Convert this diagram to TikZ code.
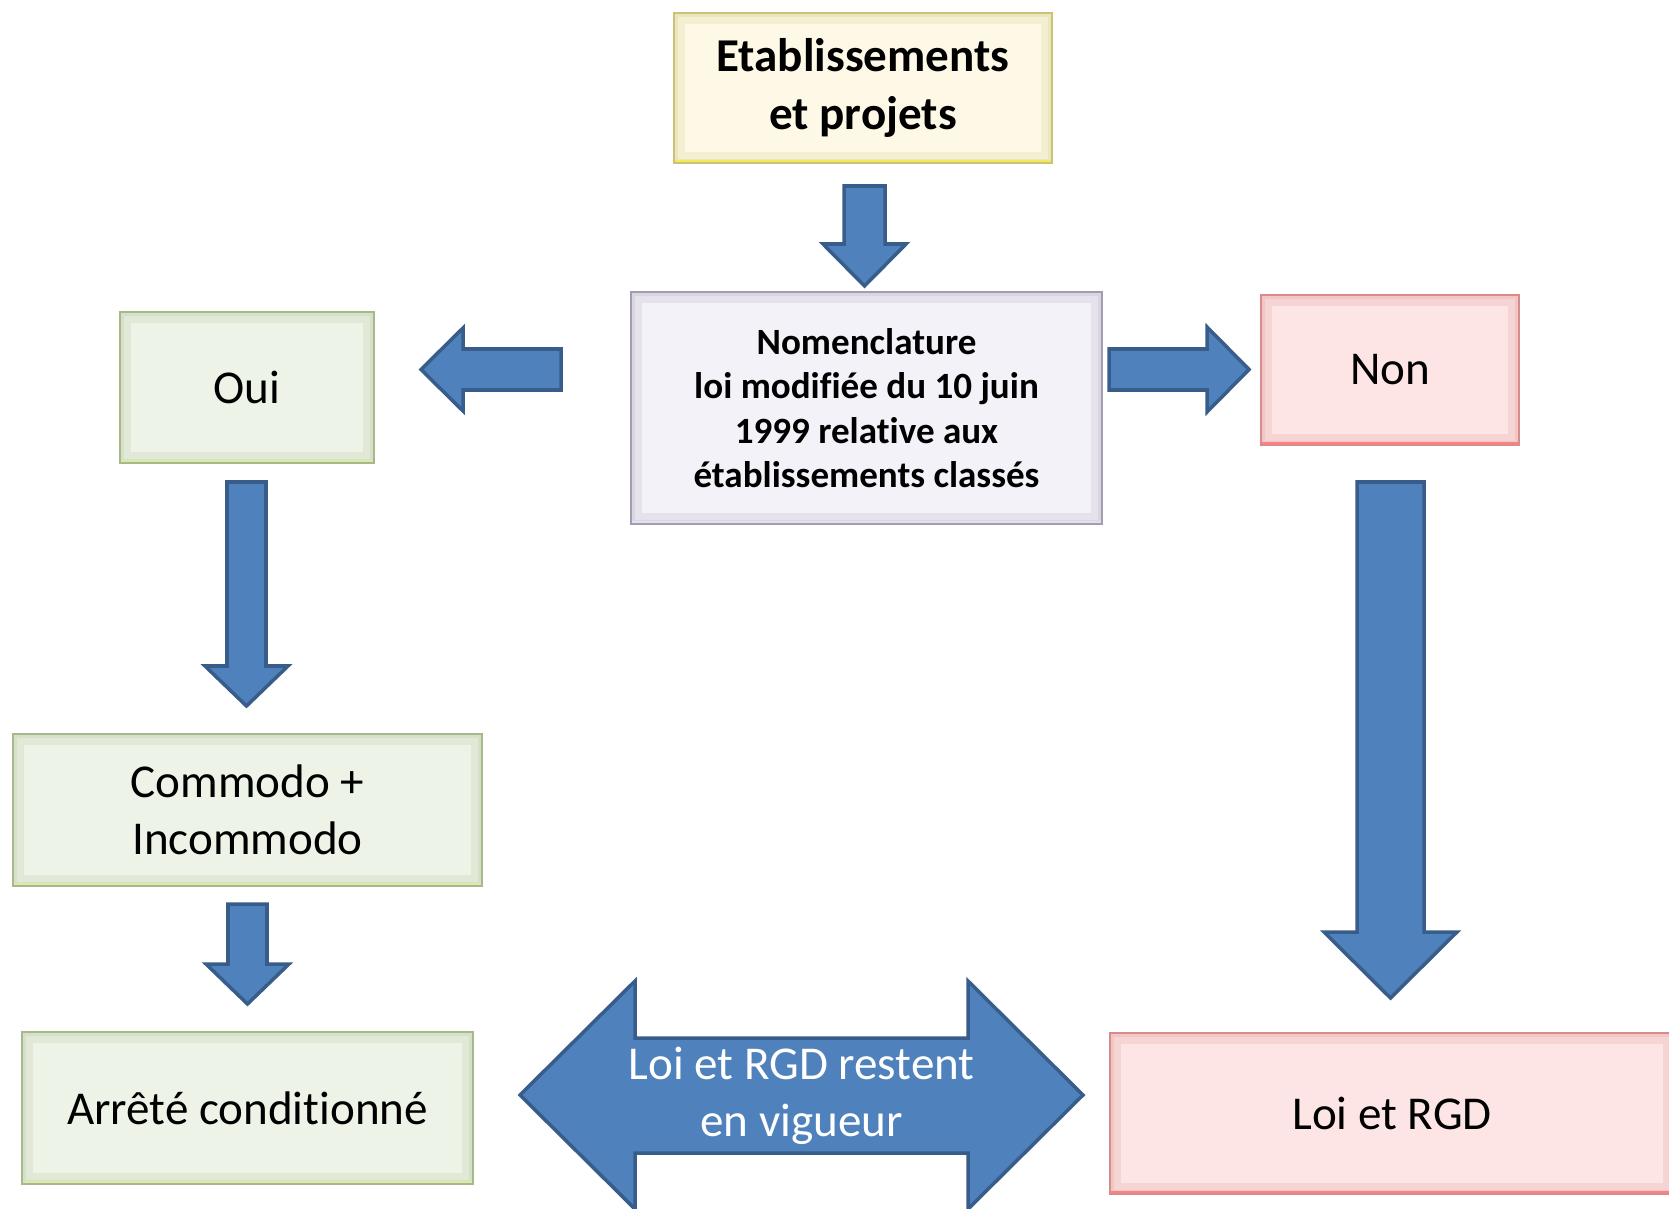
\documentclass[tikz,border=0pt]{standalone}
\usepackage{fontspec}
\setmainfont{Carlito}[Ligatures=NoCommon]
\definecolor{arrowblue}{HTML}{4F81BD}
\definecolor{arrowedge}{HTML}{385D8A}
\definecolor{etabfill}{HTML}{FEF9E6}
\definecolor{etabline}{HTML}{CBC276}
\definecolor{etabglow}{HTML}{F2EA5E}
\definecolor{nomenfill}{HTML}{F4F2F9}
\definecolor{nomenline}{HTML}{A39DB2}
\definecolor{nomenglow}{HTML}{E4E0F0}
\definecolor{ouifill}{HTML}{EEF3E7}
\definecolor{ouiline}{HTML}{A8B88D}
\definecolor{ouiglow}{HTML}{DCEAA8}
\definecolor{nonfill}{HTML}{FDE5E5}
\definecolor{nonline}{HTML}{D98A8A}
\definecolor{nonglow}{HTML}{FF8080}
\tikzset{
  box/.style={draw, line width=1.5pt, align=center, inner sep=0pt,
    font=\fontsize{26.8}{32.6}\selectfont},
  bevel/.style 2 args={path picture={
    \draw[#1, opacity=.18, line width=12pt]
      (path picture bounding box.south west) rectangle (path picture bounding box.north east);
    \draw[#1, opacity=.18, line width=5pt]
      (path picture bounding box.south west) rectangle (path picture bounding box.north east);
    \draw[#2, line width=3pt]
      (path picture bounding box.south west) -- (path picture bounding box.south east);}},
  yellowbox/.style={box, fill=etabfill, draw=etabline, bevel={etabline}{etabglow}},
  greybox/.style={box, fill=nomenfill, draw=nomenline, bevel={nomenline}{nomenglow}},
  greenbox/.style={box, fill=ouifill, draw=ouiline, bevel={ouiline}{ouiglow}},
  pinkbox/.style={box, fill=nonfill, draw=nonline, bevel={nonline}{nonglow}},
  blockarrow/.style={fill=arrowblue, draw=arrowedge, line width=2pt, line join=miter},
}
\begin{document}
\begin{tikzpicture}[x=0.02cm, y=-0.02cm]
  \useasboundingbox (0,0) rectangle (1669,1209);
  % boxes
  \node[yellowbox, minimum width=7.56cm, minimum height=3cm, font=\fontsize{26.8}{33}\selectfont\bfseries] (etab) at (863,88) {Etablissements\\et projets};
  \node[greybox, minimum width=9.42cm, minimum height=4.64cm, font=\fontsize{21.1}{25.3}\selectfont\bfseries] (nomen) at (866.5,408) {Nomenclature\\loi modifiée du 10 juin\\1999 relative aux\\établissements classés};
  \node[greenbox, minimum width=5.08cm, minimum height=3.02cm] (oui) at (247,387.5) {Oui};
  \node[pinkbox, minimum width=5.16cm, minimum height=3cm] (non) at (1390,370) {Non};
  \node[greenbox, minimum width=9.38cm, minimum height=3.04cm] (commodo) at (247.5,810) {Commodo +\\Incommodo};
  \node[greenbox, minimum width=9.02cm, minimum height=3.04cm] (arrete) at (247.5,1108) {Arrêté conditionné};
  \node[pinkbox, minimum width=11.28cm, minimum height=3.22cm] (loi) at (1392,1113.5) {Loi et RGD};
  % block arrows
  \draw[blockarrow] (844,186) -- (885,186) -- (885,244) -- (906,244) -- (864.5,286) -- (823,244) -- (844,244) -- cycle;
  \draw[blockarrow] (561,349) -- (463,349) -- (463,328) -- (421,369.5) -- (463,411) -- (463,390) -- (561,390) -- cycle;
  \draw[blockarrow] (1109,349) -- (1207,349) -- (1207,327) -- (1249,369.5) -- (1207,412) -- (1207,390) -- (1109,390) -- cycle;
  \draw[blockarrow] (227,482) -- (266,482) -- (266,666) -- (288,666) -- (246.5,706) -- (205,666) -- (227,666) -- cycle;
  \draw[blockarrow] (228,904) -- (267,904) -- (267,964) -- (289,964) -- (247.5,1004) -- (206,964) -- (228,964) -- cycle;
  \draw[blockarrow] (1357,482) -- (1424,482) -- (1424,932) -- (1457,932) -- (1390.5,998) -- (1324,932) -- (1357,932) -- cycle;
  \draw[blockarrow] (520,1095) -- (635,981) -- (635,1038) -- (968,1038) -- (968,981) -- (1083,1095)
    -- (968,1209) -- (968,1153) -- (635,1153) -- (635,1209) -- cycle;
  \node[white, align=center, font=\fontsize{26.8}{32.6}\selectfont] (vigueur) at (801.5,1096) {Loi et RGD restent\\en vigueur};
\end{tikzpicture}
\end{document}
